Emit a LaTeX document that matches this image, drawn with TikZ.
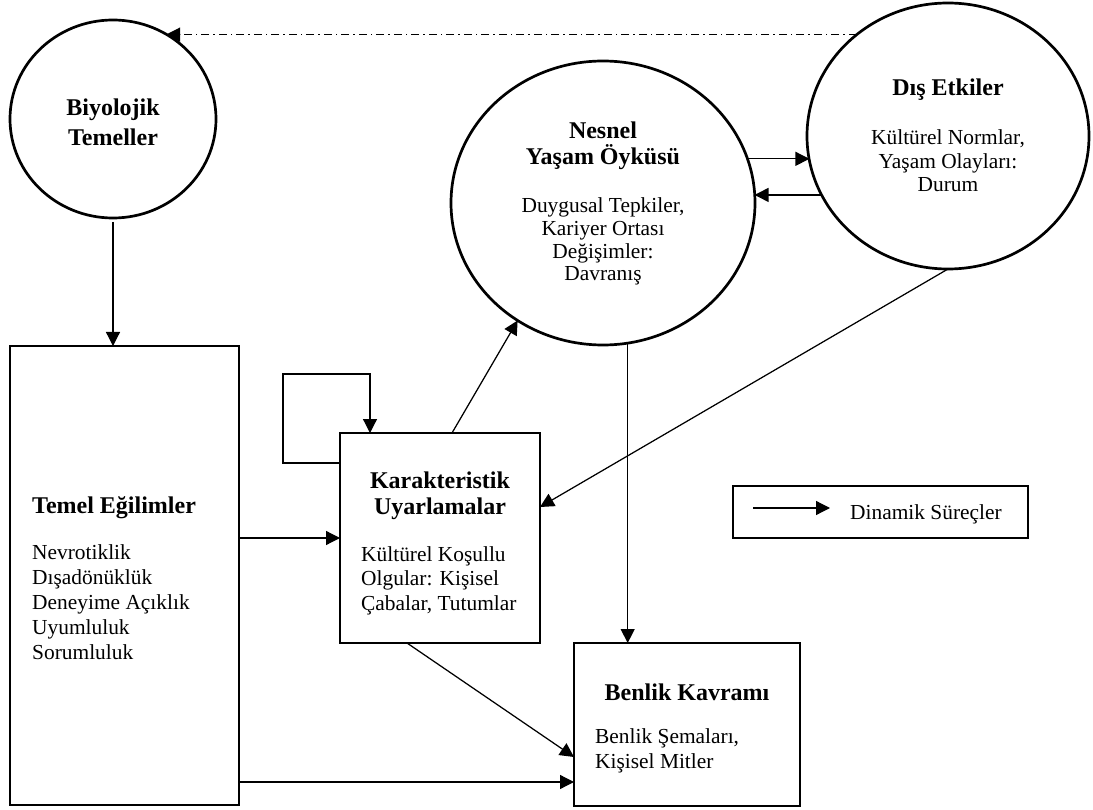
\documentclass[tikz,border=0pt]{standalone}
\usepackage{fontspec}
\setmainfont{Liberation Serif}
\usetikzlibrary{shapes.geometric,arrows.meta}
\begin{document}
\begin{tikzpicture}[x=1pt,y=-1pt,
  outline/.style={draw=black, line width=2.7pt, inner sep=0pt, outer sep=0pt},
  ring/.style={outline, ellipse},
  panel/.style={outline, rectangle, anchor=north west},
  link/.style={draw=black, line width=1.25pt, -{Triangle[length=14pt,width=14pt]}},
  feedback/.style={link, dash pattern=on 8pt off 4pt on 1.5pt off 4pt},
  title/.style={font=\fontsize{24}{27}\selectfont\bfseries, inner sep=0pt, anchor=base},
  body/.style={font=\fontsize{21.4}{24}\selectfont, inner sep=0pt, anchor=base},
  bodyl/.style={body, anchor=base west},
]
\useasboundingbox (0,0) rectangle (1093,810);

% --- shapes ---------------------------------------------------------
\node[ring, minimum width=206, minimum height=198] (biyo) at (113,119) {};
\node[ring, minimum width=304, minimum height=284] (nes)  at (603,203) {};
\node[ring, minimum width=282, minimum height=266] (dis)  at (948,136) {};
\node[panel, minimum width=229, minimum height=459] (tem) at (10,346) {};
\node[panel, minimum width=200, minimum height=210] (kar) at (340,433) {};
\node[panel, minimum width=226, minimum height=163] (ben) at (574,643) {};
\node[panel, line width=2.2pt, minimum width=295, minimum height=52] (key) at (733,486) {};

% --- texts ----------------------------------------------------------
\node[title] (biyoT1) at (113,116) {Biyolojik};
\node[title] (biyoT2) at (113,146) {Temeller};

\node[title] (nesT1) at (603,139) {Nesnel};
\node[title] (nesT2) at (603,165) {Yaşam Öyküsü};
\node[body]  (nesB1) at (603,213) {Duygusal Tepkiler,};
\node[body]  (nesB2) at (603,236) {Kariyer Ortası};
\node[body]  (nesB3) at (603,259) {Değişimler:};
\node[body]  (nesB4) at (603,281) {Davranış};

\node[title] (disT1) at (948,96)  {Dış Etkiler};
\node[body]  (disB1) at (948,145) {Kültürel Normlar,};
\node[body]  (disB2) at (948,169) {Yaşam Olayları:};
\node[body]  (disB3) at (948,192) {Durum};

\node[title, anchor=base west] (temT1) at (32,513) {Temel Eğilimler};
\node[bodyl] (temB1) at (32,559) {Nevrotiklik};
\node[bodyl] (temB2) at (32,584) {Dışadönüklük};
\node[bodyl] (temB3) at (32,609) {Deneyime Açıklık};
\node[bodyl] (temB4) at (32,634) {Uyumluluk};
\node[bodyl] (temB5) at (32,659) {Sorumluluk};

\node[title] (karT1) at (440,488) {Karakteristik};
\node[title] (karT2) at (440,514) {Uyarlamalar};
\node[bodyl] (karB1) at (361,561) {Kültürel Koşullu};
\node[bodyl] (karB2) at (361,585) {Olgular: Kişisel};
\node[bodyl] (karB3) at (361,610) {Çabalar, Tutumlar};

\node[title] (benT1) at (687,700) {Benlik Kavramı};
\node[bodyl] (benB1) at (595,743) {Benlik Şemaları,};
\node[bodyl] (benB2) at (595,768) {Kişisel Mitler};

\node[bodyl] (keyT) at (850,519) {Dinamik Süreçler};

% --- connectors -----------------------------------------------------
% feedback from external influences to biological bases
\coordinate (fbStart) at (dis.132);
\draw[feedback] (fbStart) -- (fbStart -| biyo.58);

\draw[link, shorten <=4pt] (biyo.south) -- (biyo.south |- tem.north);

% exchanges between life history and external influences
\draw[link] (nes.17.7) -- (nes.17.7 -| dis.190.5);
\draw[link] (dis.205) -- (dis.205 -| nes.4.5);

\draw[link] (dis.south) -- ([yshift=-74pt]kar.north east);
\draw[link] ([xshift=112pt]kar.north west) -- (nes.234.5);
\draw[link] (nes.280) -- (nes.280 |- ben.north);

% self-loop of the adaptations
\draw[link] ([yshift=-30pt]kar.north west) -- ++(-57,0) -- ++(0,-89)
  -- ++(87,0) -- ([xshift=30pt]kar.north west);

\draw[link] (tem.east |- kar.west) -- (kar.west);

\coordinate (benIn1) at ([yshift=49pt]ben.south west);
\coordinate (benIn2) at ([yshift=24pt]ben.south west);
\draw[link] ([xshift=67pt]kar.south west) -- (benIn1);
\draw[link] (tem.east |- benIn2) -- (benIn2);

% legend
\coordinate (keyA) at ([xshift=20pt,yshift=-22pt]key.north west);
\coordinate (keyB) at ([xshift=97pt,yshift=-22pt]key.north west);
\draw[link] (keyA) -- (keyB);
\end{tikzpicture}
\end{document}
